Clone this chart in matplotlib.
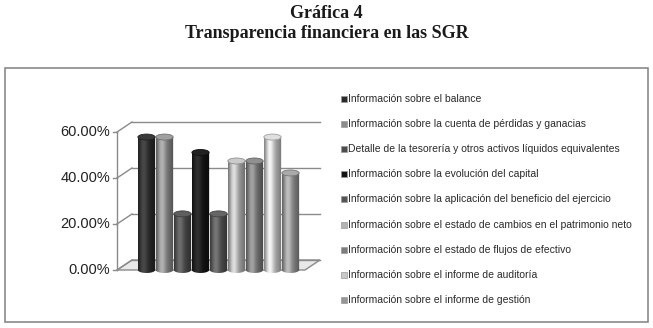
import numpy as np
import matplotlib.pyplot as plt
from matplotlib.patches import Ellipse, Rectangle, Polygon, PathPatch
from matplotlib.path import Path
from matplotlib.colors import to_rgb

categories = [
    "Información sobre el balance",
    "Información sobre la cuenta de pérdidas y ganacias",
    "Detalle de la tesorería y otros activos líquidos equivalentes",
    "Información sobre la evolución del capital",
    "Información sobre la aplicación del beneficio del ejercicio",
    "Información sobre el estado de cambios en el patrimonio neto",
    "Información sobre el estado de flujos de efectivo",
    "Información sobre el informe de auditoría",
    "Información sobre el informe de gestión",
]
values = [57.8, 57.8, 24.4, 51.1, 24.4, 47.4, 47.4, 57.8, 42.2]
colors = ["#2b2b2b", "#8c8c8c", "#4d4d4d", "#141414", "#555555",
          "#b4b4b4", "#7d7d7d", "#c8c8c8", "#969696"]
yticks = [0, 20, 40, 60]

W, H = 653, 328
fig = plt.figure(figsize=(W / 100, H / 100), dpi=100)


def fx(px):
    return px / W


def fy(py):
    return 1 - py / H


# title
fig.text(0.5, fy(13), "Gráfica 4", ha="center", va="center",
         fontfamily="Liberation Serif", fontweight="bold", fontsize=13, color="#1a1a1a")
fig.text(0.5, fy(33), "Transparencia financiera en las SGR", ha="center", va="center",
         fontfamily="Liberation Serif", fontweight="bold", fontsize=13, color="#1a1a1a")

# outer frame
fig.patches.append(Rectangle((fx(5), fy(322)), fx(643), 254 / H, transform=fig.transFigure,
                             fill=False, edgecolor="#8a8a8a", linewidth=1.2))

# chart axes: pixel x = 146.5 + 18*i, pixel y = 270 - 2.3*v
x_px0, x_px1, y_px0, y_px1 = 100, 330, 285, 80
ax = fig.add_axes([fx(x_px0), fy(y_px0), (x_px1 - x_px0) / W, (y_px0 - y_px1) / H])
ax.set_axis_off()
xmin, xmax = (x_px0 - 146.5) / 18, (x_px1 - 146.5) / 18
ymin, ymax = (270 - y_px0) / 2.3, (270 - y_px1) / 2.3

dx, dy = 15 / 18, 10 / 2.3  # depth offset in data units
left = (117 - 146.5) / 18
right = (305 - 146.5) / 18

# floor
ax.add_patch(Polygon([(left, 0), (right, 0), (right + dx, dy), (left + dx, dy)],
                     closed=True, facecolor="#e8e8e8", edgecolor="#8a8a8a", lw=1, zorder=1))
# back gridlines and diagonals
for v in yticks:
    ax.plot([left + dx, right + dx], [v + dy, v + dy], color="#8a8a8a", lw=1, zorder=1)
    ax.plot([left, left + dx], [v, v + dy], color="#8a8a8a", lw=1, zorder=1)
    ax.plot([left - 0.22, left], [v, v], color="#8a8a8a", lw=1, zorder=1)
ax.plot([left, left], [0, 60], color="#8a8a8a", lw=1, zorder=1)

# cylinders
w = 0.96
e = 2.6
t = np.linspace(0, 1, 60)
g = np.exp(-((t - 0.3) / 0.24) ** 2)
edge = 0.72 + 0.28 * np.sin(np.pi * t)
for i, (v, c) in enumerate(zip(values, colors)):
    base = np.array(to_rgb(c))
    rgb = np.clip(base[None, :] * (0.8 + 0.35 * g[:, None]) * edge[:, None] + 0.1 * g[:, None], 0, 1)
    img = rgb[None, :, :]
    x0, x1 = i - w / 2, i + w / 2
    th = np.linspace(np.pi, 2 * np.pi, 30)
    verts = [(i + w / 2 * np.cos(a), e / 2 * np.sin(a)) for a in th]
    verts += [(x1, v), (x0, v), verts[0]]
    clip = PathPatch(Path(verts), transform=ax.transData, facecolor="none", edgecolor="none")
    ax.add_patch(clip)
    im = ax.imshow(img, extent=[x0, x1, -e / 2, v], aspect="auto", zorder=3, interpolation="bilinear")
    im.set_clip_path(clip)
    top = np.clip(base * 1.05 + 0.05, 0, 1)
    ax.add_patch(Ellipse((i, v), w, e, facecolor=top, edgecolor=base * 0.8, lw=0.6, zorder=4))

ax.set_xlim(xmin, xmax)
ax.set_ylim(ymin, ymax)

# y tick labels
for v in yticks:
    fig.text(fx(110), fy(270 - 2.3 * v), f"{v:.2f}%", ha="right", va="center",
             fontfamily="Liberation Sans", fontsize=10.5, color="#222222")

# legend
for k, (lab, c) in enumerate(zip(categories, colors)):
    yy = 99 + 25.1 * k
    fig.patches.append(Rectangle((fx(341), fy(yy + 3)), 6 / W, 6 / H, transform=fig.transFigure,
                                 facecolor=c, edgecolor="#999999", linewidth=0.5))
    fig.text(fx(348), fy(yy), lab, ha="left", va="center",
             fontfamily="Liberation Sans", fontsize=7.5, color="#2a2a2a")

fig.savefig("out.png", dpi=100)
